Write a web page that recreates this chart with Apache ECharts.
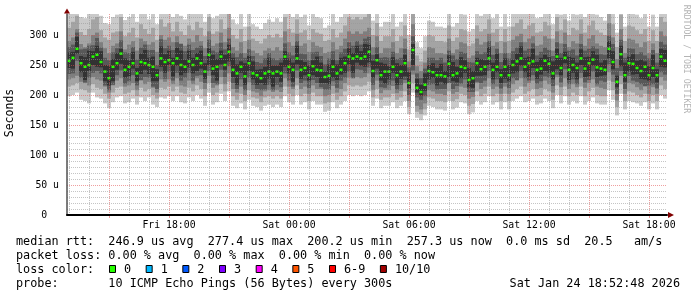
<!DOCTYPE html>
<html><head><meta charset="utf-8">
<script src="https://cdn.jsdelivr.net/npm/echarts@6/dist/echarts.min.js"></script>
<style>html,body{margin:0;padding:0;background:#fff}#c{width:697px;height:297px}</style>
</head><body><div id="c"></div>
<script>
// ---- time axis (hours since Fri 00:00) ----
const startHour = 12.9;   // Fri 12:54
const stepHours = 0.2;    // one column = 12 minutes
const yMax = 335;

// ---- median rtt per column (microseconds) ----
const median = [
257,262,277,253,247,250,264,267,255,239,228,247,253,269,242,
247,253,236,255,253,250,247,233,261,255,258,253,261,250,247,
256,250,261,253,239,267,244,247,264,250,272,242,236,247,231,
253,236,233,228,236,239,236,239,236,264,247,242,261,242,245,
233,248,242,241,230,232,247,236,242,253,264,261,264,261,264,
272,240,258,233,239,239,247,233,239,253,220,275,212,205,217,
240,238,233,233,231,252,233,236,247,245,225,228,253,243,247,
261,242,247,233,247,233,250,256,261,247,253,256,242,244,257,
252,236,264,245,262,242,250,245,261,244,253,259,246,244,242,
277,255,222,268,233,253,252,245,240,247,233,245,233,264,257];

// ---- sorted pings per column (ping1 = fastest ... ping10 = slowest) ----
const ping1 = [
198,200,204,192,190,186,204,196,194,186,178,188,196,198,186,
188,194,184,196,190,196,184,180,196,194,198,190,198,188,186,
196,190,200,194,182,204,184,188,202,190,206,182,178,186,176,
192,182,180,174,182,184,180,184,180,198,188,184,200,184,188,
176,190,184,184,172,174,188,178,184,190,200,198,200,198,200,
206,182,194,178,182,182,188,178,182,190,168,204,162,158,166,
182,180,176,176,174,190,176,179,188,186,168,171,190,184,188,
198,184,188,176,188,176,190,194,198,188,190,194,184,186,194,
190,178,200,186,198,184,190,186,198,184,190,196,186,184,184,
208,192,166,202,176,190,188,186,182,188,176,186,176,200,194];
const ping2 = [
214,216,220,210,208,204,218,212,210,202,194,204,212,214,202,
204,208,198,212,206,210,200,194,212,210,214,206,214,204,202,
212,206,216,210,198,220,200,204,218,206,222,198,192,202,190,
208,196,194,188,196,198,194,198,194,214,202,198,216,198,202,
190,204,198,198,186,188,202,192,198,206,216,214,216,214,216,
222,196,210,192,196,196,202,192,196,206,180,220,172,168,176,
196,194,190,190,188,206,190,193,202,200,182,185,206,198,202,
214,198,202,190,202,190,204,210,214,202,206,210,198,200,210,
206,192,216,200,214,198,204,200,214,198,206,212,200,198,198,
224,208,180,218,190,206,204,200,196,202,190,200,190,216,210];
const ping3 = [
226,228,232,222,220,216,230,226,224,214,204,216,224,228,214,
216,220,208,224,218,222,212,204,226,222,226,218,228,216,214,
224,218,228,222,210,232,212,216,230,218,236,210,204,214,200,
221,206,204,198,206,208,205,208,205,228,214,210,228,210,214,
202,216,210,210,198,200,215,204,210,220,229,228,230,228,230,
236,208,224,203,208,208,215,203,207,220,190,234,182,176,186,
208,206,202,202,200,220,202,205,214,212,194,197,220,210,214,
228,210,214,202,214,202,218,224,228,214,220,224,210,212,224,
218,204,230,213,228,210,218,213,228,212,220,226,214,212,210,
238,222,191,232,202,220,218,213,208,214,202,213,202,230,224];
const ping4 = [
235,236,257,229,221,229,237,240,236,216,208,217,233,241,219,
223,233,216,225,230,229,214,210,239,227,239,224,237,224,229,
237,224,232,233,220,240,220,218,242,230,248,220,210,226,208,
229,217,210,208,209,217,208,217,213,236,224,214,241,220,224,
212,225,220,213,209,209,223,212,224,229,239,228,243,242,237,
246,217,234,213,212,217,224,209,217,225,200,241,196,192,198,
217,218,209,210,210,220,210,215,219,226,205,205,222,220,224,
240,218,226,211,220,212,228,225,240,228,224,233,219,223,231,
229,215,234,221,243,218,226,218,237,221,225,239,218,224,222,
251,234,202,240,210,232,224,222,218,215,216,218,211,238,234];
const ping5 = [
245,244,269,238,225,240,250,247,246,223,216,223,242,252,229,
231,244,223,235,242,235,223,223,247,237,250,231,249,233,237,
246,236,240,244,227,250,233,224,251,242,256,230,217,237,217,
240,226,217,220,217,227,214,230,222,247,236,222,251,227,233,
224,233,230,220,220,218,229,225,234,237,251,237,254,249,247,
254,229,244,224,219,226,237,217,227,231,211,250,204,199,207,
226,229,216,222,218,230,223,221,228,237,213,212,232,232,233,
250,226,238,220,227,223,236,238,249,238,230,245,227,234,240,
237,226,243,233,253,225,237,226,250,230,231,249,230,232,233,
261,243,213,248,222,239,234,235,227,226,224,230,221,247,246];
const ping6 = [
271,272,297,265,263,274,273,282,273,250,249,260,270,277,261,
258,272,245,269,275,262,264,243,281,268,274,262,279,274,259,
274,262,270,274,253,278,267,260,274,267,284,262,251,256,253,
265,256,242,243,247,262,249,249,254,273,261,254,282,258,255,
249,258,264,254,239,251,259,251,262,264,278,270,282,273,285,
284,257,268,254,252,248,263,253,250,267,238,285,227,217,236,
250,253,245,252,240,266,255,247,263,258,245,240,262,260,258,
280,254,269,243,261,250,259,269,281,262,264,277,255,262,267,
263,256,277,262,272,264,262,254,276,263,264,273,267,254,258,
290,273,232,282,254,264,268,257,259,256,248,267,243,277,275];
const ping7 = [
280,284,304,276,277,282,283,295,279,262,258,271,278,291,271,
270,280,259,279,284,275,275,250,293,278,282,275,288,285,273,
284,275,279,282,265,292,274,271,287,276,294,270,263,270,262,
276,265,255,253,261,270,261,258,261,286,271,266,290,269,268,
258,271,272,265,251,261,273,258,271,277,288,282,290,284,294,
297,267,280,262,263,262,272,260,262,277,246,298,236,228,244,
262,262,258,262,254,274,266,260,272,270,255,254,273,268,271,
290,267,277,255,270,261,273,279,288,274,277,286,266,272,279,
275,265,288,270,285,274,276,266,285,274,277,281,277,268,267,
299,285,245,292,262,278,277,268,271,266,261,275,254,289,284];
const ping8 = [
290,296,310,285,280,286,300,304,288,278,270,282,286,306,276,
284,290,274,294,290,284,288,272,300,292,296,288,298,286,282,
294,288,300,290,278,306,282,286,304,288,312,280,274,288,270,
292,274,270,266,274,278,274,280,274,306,288,282,302,282,286,
272,288,282,280,270,272,288,276,282,294,306,302,306,302,306,
312,280,298,270,278,278,288,270,278,294,256,318,248,240,254,
280,278,270,270,268,294,270,276,288,286,262,266,294,284,288,
302,282,288,270,288,270,292,298,302,288,294,298,282,284,298,
294,274,306,286,304,280,290,286,302,282,294,300,286,282,280,
320,296,260,310,270,294,292,286,280,288,270,286,270,306,298];
const ping9 = [
312,322,332,305,300,310,326,330,308,296,292,304,306,330,298,
304,312,296,318,310,302,312,292,326,314,320,306,322,306,300,
316,308,322,312,298,330,302,306,326,310,336,300,294,310,290,
314,294,290,286,294,300,296,302,296,330,310,304,326,304,308,
292,310,304,302,290,292,310,296,304,316,330,326,330,326,330,
336,300,320,290,298,298,310,290,298,316,276,340,266,256,274,
300,298,290,290,288,316,290,296,310,308,282,286,316,306,310,
326,304,310,290,310,290,314,320,326,310,316,320,304,306,322,
316,294,330,308,326,300,312,308,326,304,316,324,308,304,300,
344,318,280,334,290,316,314,308,302,310,290,308,290,330,322];
const ping10 = [
340,345,350,330,328,336,350,352,332,320,318,330,334,355,325,
330,340,322,345,336,326,340,318,355,338,345,330,350,332,326,
342,335,348,338,322,355,328,332,350,336,360,326,318,336,314,
340,318,314,310,320,326,322,328,322,358,336,330,352,330,334,
316,338,330,328,312,316,336,322,330,344,358,352,358,352,358,
362,324,346,314,322,322,336,314,322,344,300,365,288,278,298,
324,322,314,314,312,344,314,320,336,334,306,310,344,332,336,
352,328,336,314,336,314,340,348,352,336,342,348,328,330,350,
344,318,358,334,354,324,338,334,352,330,344,350,334,330,324,
365,346,304,360,314,344,340,334,328,336,314,334,314,358,350];

// ---- axes / grid ----
const xLabelHours = [18, 24, 30, 36, 42];
const xLabelTexts = ['Fri 18:00', 'Sat 00:00', 'Sat 06:00', 'Sat 12:00', 'Sat 18:00'];
const yLabelValues = [0, 50, 100, 150, 200, 250, 300];
const yLabelTexts = ['0  ', '50 u', '100 u', '150 u', '200 u', '250 u', '300 u'];
const yGridValues = [10,20,30,40,50,60,70,80,90,100,110,120,130,140,150,160,170,180,190,200,210,220,230,240,250,260,270,280,290,300,310,320,330];
const xGridHours = [13,14,15,16,17,18,19,20,21,22,23,24,25,26,27,28,29,30,31,32,33,34,35,36,37,38,39,40,41,42];
const xMajorHours = [15, 18, 21, 24, 27, 30, 33, 36, 39, 42];

// ---- legend texts ----
const medianRttStats = ['246.9 us avg', '277.4 us max', '200.2 us min', '257.3 us now', '0.0 ms sd', '20.5   am/s'];
const packetLossStats = ['0.00 % avg', '0.00 % max', '0.00 % min', '0.00 % now'];
const lossLabels = ['0', '1', '2', '3', '4', '5', '6-9', '10/10'];
const lossColors = ['#26ff00', '#00b8ff', '#0059ff', '#7e00ff', '#ff00ff', '#ff5500', '#ff0000', '#a10000'];
const probeText = '10 ICMP Echo Pings (56 Bytes) every 300s';
const dateText = 'Sat Jan 24 18:52:48 2026';

const smokeGreys = ['#cacaca', '#a4a4a4', '#7e7e7e', '#585858', '#323232'];
const FONT = 'DejaVu Sans Mono';
const endHour = startHour + median.length * stepHours;
const pings = [ping1, ping2, ping3, ping4, ping5, ping6, ping7, ping8, ping9, ping10];
const minorCol = 'rgba(150,150,150,0.55)';
const majorCol = 'rgba(225,80,80,0.55)';

const smokeData = median.map((m, i) => {
  const row = [startHour + i * stepHours, startHour + (i + 1) * stepHours];
  pings.forEach(p => row.push(p[i]));
  row.push(m);
  return row;
});

function renderSmoke(params, api) {
  const t0 = api.value(0), t1 = api.value(1);
  const children = [];
  for (let b = 0; b < 5; b++) {
    const lo = api.value(2 + b), hi = api.value(11 - b);
    const a = api.coord([t0, hi]), c = api.coord([t1, lo]);
    const r = echarts.graphic.clipRectByRect({x: a[0], y: a[1], width: c[0] - a[0], height: c[1] - a[1]}, params.coordSys);
    if (r) children.push({type: 'rect', shape: r, style: {fill: smokeGreys[b]}});
  }
  const m0 = api.coord([t0, api.value(12)]), m1 = api.coord([t1, api.value(12)]);
  children.push({type: 'rect', shape: {x: m0[0] + 0.5, y: m0[1] - 1.25, width: (m1[0] - m0[0]) - 1, height: 2.5}, style: {fill: lossColors[0]}});
  return {type: 'group', children};
}

// vertical grid line at an hour value (major lines every 3 h get a small tick under the axis)
function renderVGrid(params, api) {
  const h = api.value(0);
  const top = api.coord([h, yMax]), bot = api.coord([h, 0]);
  const x = Math.round(top[0]) + 0.5;
  const major = xMajorHours.indexOf(h) >= 0;
  return {type: 'group', children: [
    {type: 'line', shape: {x1: x, y1: top[1], x2: x, y2: bot[1]}, style: {stroke: major ? majorCol : minorCol, lineWidth: 1, lineDash: [1, 1]}},
    major ? {type: 'line', shape: {x1: x, y1: bot[1], x2: x, y2: bot[1] + 3}, style: {stroke: majorCol, lineWidth: 1}} : {type: 'group'}
  ]};
}
// horizontal grid line at a value (every 50 u is a major line)
function renderHGrid(params, api) {
  const v = api.value(0);
  const l = api.coord([startHour, v]), r = api.coord([endHour, v]);
  const y = Math.round(l[1]) + 0.5;
  const major = yLabelValues.indexOf(v) >= 0;
  return {type: 'line', shape: {x1: l[0], y1: y, x2: r[0], y2: y}, style: {stroke: major ? majorCol : minorCol, lineWidth: 1, lineDash: [1, 1]}};
}

const hiddenX = {type: 'value', min: startHour, max: endHour, axisLine: {show: false}, axisTick: {show: false}, axisLabel: {show: false}, splitLine: {show: false}};
const hiddenY = {type: 'value', min: 0, max: yMax, axisLine: {show: false}, axisTick: {show: false}, axisLabel: {show: false}, splitLine: {show: false}};

const legendY = [241.5, 255.5, 269.5, 283.5];
const font = '11.8px "' + FONT + '"';
const graphics = [
  {type: 'text', x: 16, y: legendY[0], style: {text: 'median rtt:  ' + medianRttStats.join('  '), font, fill: '#000', verticalAlign: 'middle'}},
  {type: 'text', x: 16, y: legendY[1], style: {text: 'packet loss: ' + packetLossStats.join('  '), font, fill: '#000', verticalAlign: 'middle'}},
  {type: 'text', x: 16, y: legendY[2], style: {text: 'loss color:', font, fill: '#000', verticalAlign: 'middle'}},
  {type: 'text', x: 16, y: legendY[3], style: {text: 'probe:       ' + probeText, font, fill: '#000', verticalAlign: 'middle'}},
  {type: 'text', x: 680, y: legendY[3], style: {text: dateText, font, fill: '#000', align: 'right', verticalAlign: 'middle'}},
  {type: 'text', x: 10, y: 113, rotation: Math.PI / 2, style: {text: 'Seconds', font: '11.5px "' + FONT + '"', fill: '#000', align: 'center', verticalAlign: 'middle'}},
  {type: 'text', x: 686, y: 59, rotation: -Math.PI / 2, style: {text: 'RRDTOOL / TOBI OETIKER', font: '8.2px "' + FONT + '"', fill: '#b4b4b4', align: 'center', verticalAlign: 'middle'}}
];
let lx = 109;
lossLabels.forEach((lab, k) => {
  graphics.push({type: 'rect', shape: {x: lx + 0.5, y: 265.5, width: 6, height: 7}, style: {fill: lossColors[k], stroke: '#000', lineWidth: 1}});
  graphics.push({type: 'text', x: lx + 15, y: legendY[2], style: {text: lab, font, fill: '#000', verticalAlign: 'middle'}});
  lx += 36.67 + (lab.length - 1) * 7.1;
});

const chart = echarts.init(document.getElementById('c'), null, {renderer: 'canvas', width: 697, height: 297});
chart.setOption({
  animation: false,
  backgroundColor: '#ffffff',
  grid: {left: 67, right: 30, top: 14, bottom: 82, containLabel: false, outerBoundsMode: 'none'},
  xAxis: [
    Object.assign({}, hiddenX, {z: 4, position: 'bottom',
      axisLine: {show: true, onZero: false, lineStyle: {color: '#000', width: 2}},
      axisLabel: {show: true, customValues: xLabelHours, margin: 5, fontFamily: FONT, fontSize: 9.8, color: '#000',
        formatter: v => xLabelTexts[xLabelHours.indexOf(Math.round(v))] || ''}}),
    Object.assign({}, hiddenX, {z: 5, position: 'bottom',
      axisLine: {show: true, onZero: false, symbol: ['none', 'triangle'], symbolSize: [6, 6], symbolOffset: [0, 4], lineStyle: {color: '#800000', width: 0}}})
  ],
  yAxis: [
    Object.assign({}, hiddenY, {z: 4, position: 'left',
      axisLine: {show: true, onZero: false, lineStyle: {color: '#505050', width: 1.5}},
      axisLabel: {show: true, customValues: yLabelValues, margin: 8, fontFamily: FONT, fontSize: 9.8, color: '#000',
        formatter: v => yLabelTexts[yLabelValues.indexOf(Math.round(v))] || ''}}),
    Object.assign({}, hiddenY, {z: 5, position: 'left',
      axisLine: {show: true, onZero: false, symbol: ['none', 'triangle'], symbolSize: [6, 5], symbolOffset: [0, 3], lineStyle: {color: '#800000', width: 0}}})
  ],
  series: [
    {type: 'custom', xAxisIndex: 0, yAxisIndex: 0, z: 2, renderItem: renderSmoke,
      encode: {x: [0, 1], y: [2, 3, 4, 5, 6, 7, 8, 9, 10, 11, 12]}, data: smokeData},
    {type: 'custom', xAxisIndex: 0, yAxisIndex: 0, z: 3, clip: false, renderItem: renderVGrid,
      encode: {x: 0}, data: xGridHours.map(h => [h])},
    {type: 'custom', xAxisIndex: 0, yAxisIndex: 0, z: 3, clip: false, renderItem: renderHGrid,
      encode: {y: 0}, data: yGridValues.map(v => [v])}
  ],
  graphic: graphics
});
</script>
</body></html>
